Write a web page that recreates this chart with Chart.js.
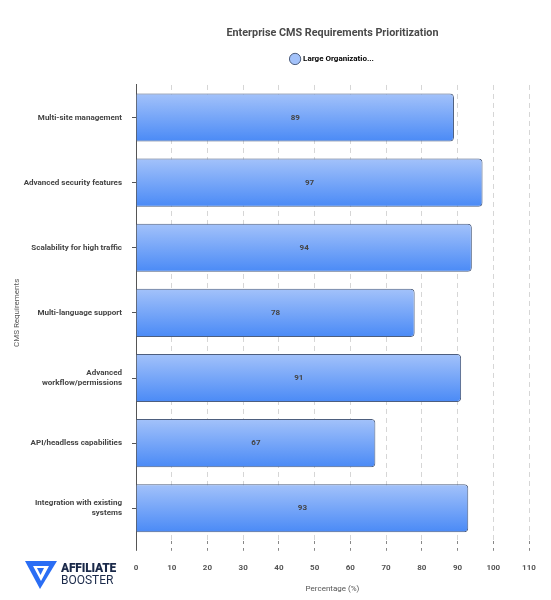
<!DOCTYPE html>
<html>
<head>
<meta charset="utf-8">
<script src="https://cdn.jsdelivr.net/npm/chart.js@4/dist/chart.umd.min.js"></script>
<style>
  html, body { margin: 0; padding: 0; background: #fff; }
  #wrap { position: relative; width: 551px; height: 600px; }
  #logo { position: absolute; left: 24px; top: 558px; display: flex; align-items: center; gap: 3px; font-family: Roboto, sans-serif; }
  #logo .t1 { font-weight: 900; font-size: 12px; color: #1b2a4a; line-height: 12px; letter-spacing: -0.2px; }
  #logo .t2 { font-weight: 400; font-size: 12px; color: #1b2a4a; line-height: 12px; }
</style>
</head>
<body>
<div id="wrap">
  <canvas id="cmsChart" width="551" height="600"></canvas>
  <div id="logo">
    <svg width="34" height="32" viewBox="0 0 34 32">
      <path d="M1 3 L33 3 L16 31 Z" fill="#2a6df4"/>
      <path d="M9 8 L25 8 L17 23 Z" fill="#fff"/>
      <path d="M13 10 L20 10 L16.5 17 Z" fill="#2a6df4"/>
    </svg>
    <div><div class="t1">AFFILIATE</div><div class="t2">BOOSTER</div></div>
  </div>
</div>
<script>
// ---- chart data ----
const categories = [
  'Multi-site management',
  'Advanced security features',
  'Scalability for high traffic',
  'Multi-language support',
  ['Advanced', 'workflow/permissions'],
  'API/headless capabilities',
  ['Integration with existing', 'systems']
];
const largeOrgValues = [89, 97, 94, 78, 91, 67, 93];
const seriesLabel = 'Large Organizatio...';
const xTicks = [0, 10, 20, 30, 40, 50, 60, 70, 80, 90, 100, 110];

const BAR_PCT = 0.74;

// bar value in the middle of each bar
const barValueLabels = {
  id: 'barValueLabels',
  afterDatasetsDraw(chart) {
    const ctx = chart.ctx;
    const meta = chart.getDatasetMeta(0);
    ctx.save();
    ctx.font = 'bold 8px Roboto';
    ctx.fillStyle = '#444';
    ctx.textAlign = 'center';
    ctx.textBaseline = 'middle';
    meta.data.forEach((bar, i) => {
      ctx.fillText(largeOrgValues[i], (bar.x + bar.base) / 2, bar.y);
    });
    ctx.restore();
  }
};

// a bit more room under the legend
const legendGap = {
  id: 'legendGap',
  beforeInit(chart) {
    const fit = chart.legend.fit;
    chart.legend.fit = function () {
      fit.bind(chart.legend)();
      this.height += 12;
    };
  }
};

function barGradient(c) {
  const chart = c.chart;
  if (!chart.chartArea || c.dataIndex === undefined) return '#7aa6f8';
  const y = chart.scales.y;
  const mid = y.getPixelForValue(c.dataIndex);
  const half = (y.height / categories.length) * BAR_PCT / 2;
  const g = chart.ctx.createLinearGradient(0, mid - half, 0, mid + half);
  g.addColorStop(0, '#a3c2fa');
  g.addColorStop(1, '#4a8af6');
  return g;
}

new Chart(document.getElementById('cmsChart'), {
  type: 'bar',
  data: {
    labels: categories,
    datasets: [{
      label: seriesLabel,
      data: largeOrgValues,
      backgroundColor: barGradient,
      borderColor: '#4d5e7e',
      borderWidth: 1,
      borderRadius: 4,
      barPercentage: BAR_PCT,
      categoryPercentage: 1
    }]
  },
  options: {
    indexAxis: 'y',
    responsive: false,
    animation: false,
    layout: { padding: { top: 27, right: 22, left: 12, bottom: 2 } },
    plugins: {
      title: {
        display: true,
        fullSize: false,
        text: 'Enterprise CMS Requirements Prioritization',
        color: '#4a4a4a',
        font: { family: 'Roboto', size: 10.8, weight: 'bold' },
        padding: { top: 0, bottom: 5 }
      },
      legend: {
        display: true,
        fullSize: false,
        labels: {
          usePointStyle: true,
          pointStyle: 'circle',
          boxWidth: 9,
          boxHeight: 9,
          color: '#444',
          font: { family: 'Roboto', size: 8, weight: 'bold' },
          generateLabels: chart => [{
            text: seriesLabel,
            fillStyle: '#a3c2fa',
            strokeStyle: '#4d5e7e',
            lineWidth: 1,
            pointStyle: 'circle',
            datasetIndex: 0
          }]
        }
      },
      tooltip: { enabled: false }
    },
    scales: {
      x: {
        min: 0,
        max: 110,
        afterBuildTicks: s => { s.ticks = xTicks.map(v => ({ value: v })); },
        grid: {
          color: '#d6d6d6',
          tickLength: 10,
          tickColor: c => (c.index === 0 ? '#555' : '#888'),
          tickBorderDash: c => (c.index === 0 ? [] : [3, 4]),
          lineWidth: 1
        },
        border: { display: false, dash: [5, 4] },
        ticks: { color: '#555', padding: 12, font: { family: 'Roboto', size: 8, weight: 'bold' } },
        title: {
          display: true,
          text: 'Percentage (%)',
          color: '#555',
          font: { family: 'Roboto', size: 8 },
          padding: { top: 0 }
        }
      },
      y: {
        afterFit: s => { s.width = 124; },
        grid: { drawOnChartArea: false, offset: false, tickLength: 4, color: '#555' },
        border: { display: true, color: '#555', width: 1 },
        ticks: { color: '#444', padding: 10, font: { family: 'Roboto', size: 8, weight: 'bold' } },
        title: {
          display: true,
          text: 'CMS Requirements',
          color: '#555',
          font: { family: 'Roboto', size: 8 },
          padding: { top: 0, bottom: 0 }
        }
      }
    }
  },
  plugins: [barValueLabels, legendGap]
});
</script>
</body>
</html>
